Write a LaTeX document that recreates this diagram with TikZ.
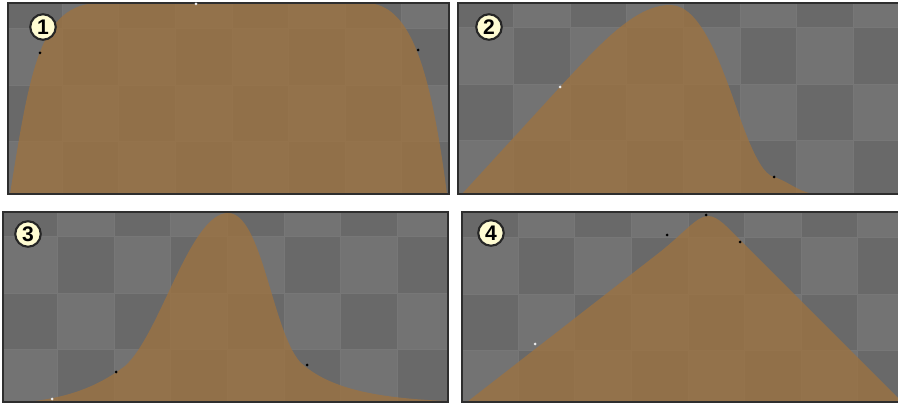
\documentclass[tikz,border=0pt]{standalone}
\usepackage{fontspec}
\setsansfont{Liberation Sans}
\usepackage{xcolor}
\usepackage{tikz}

\definecolor{checkdark}{HTML}{696969}
\definecolor{checklight}{HTML}{737373}
\definecolor{gridline}{HTML}{777777}
\definecolor{curvefill}{RGB}{156,114,66}
\definecolor{framecol}{HTML}{2E2E2E}
\definecolor{badgefill}{HTML}{FFFCD2}

\begin{document}
\begin{tikzpicture}[
    x=0.01cm, y=-0.01cm,
    every node/.style={font=\sffamily\bfseries\fontsize{6}{6}\selectfont},
    badge/.style={circle, draw=black!85, line width=0.6pt, fill=badgefill, minimum size=0.255cm, inner sep=0pt},
    knotdark/.style={circle, fill=black, inner sep=0pt, minimum size=0.03cm},
    knotlight/.style={circle, fill=white!85!gray, inner sep=0pt, minimum size=0.03cm},
    curve/.style={fill=curvefill, fill opacity=0.8},
    frame/.style={draw=framecol, line width=0.4pt}
]
\useasboundingbox (0,0) rectangle (898,404);
\fill[white] (0,0) rectangle (898,404);

% checkered panels
\foreach \xl/\yt/\xr/\yb/\gx/\gy in {8/3/449/194/5.5/-28, 458/3/899/194/457/-29, 3/212/448/402/1/180, 462/212/899/402/461.5/181}{
  \begin{scope}
    \clip (\xl,\yt) rectangle (\xr,\yb);
    \foreach \i in {0,...,8}{
      \foreach \j in {0,...,4}{
        \pgfmathtruncatemacro\cellodd{mod(\i+\j,2)}
        \ifnum\cellodd=0 \def\cellcol{checkdark}\else\def\cellcol{checklight}\fi
        \filldraw[fill=\cellcol, draw=gridline, line width=0.2pt]
          ({\gx+\i*56.6},{\gy+\j*56.6}) rectangle +(56.6,56.6);
      }
    }
  \end{scope}
}

% 1: plateau
\begin{scope}
  \clip (8,3) rectangle (449,194);
  \fill[curve] (10,194) .. controls (30,70) and (40,3) .. (100,3) -- (365,3)
    .. controls (410,3) and (430,65) .. (447,194) -- cycle;
\end{scope}
\draw[frame] (8,3) rectangle (449,194);

% 2: skewed bump
\begin{scope}
  \clip (458,3) rectangle (899,194);
  \fill[curve] (462,194) -- (560,87) .. controls (600,44) and (635,5) .. (670,5)
    .. controls (700,5) and (720,60) .. (740,118)
    .. controls (755,160) and (765,175) .. (774,177)
    .. controls (790,182) and (800,194) .. (818,194) -- cycle;
\end{scope}
\draw[frame] (458,3) rectangle (899,194);

% 3: bell
\begin{scope}
  \clip (3,212) rectangle (448,402);
  \fill[curve] (25,402) .. controls (70,398) and (100,385) .. (125,366)
    .. controls (160,335) and (190,213) .. (228,213)
    .. controls (262,213) and (272,330) .. (300,362)
    .. controls (330,390) and (380,398) .. (446,401) -- (446,402) -- cycle;
\end{scope}
\draw[frame] (3,212) rectangle (448,402);

% 4: tent
\begin{scope}
  \clip (462,212) rectangle (899,402);
  \fill[curve] (467,402) -- (660,252) .. controls (685,232) and (697,216) .. (708,216)
    .. controls (718,216) and (728,228) .. (740,240) -- (898,398) -- (898,402) -- cycle;
\end{scope}
\draw[frame] (462,212) rectangle (899,402);

% handles
\node[knotdark] (k1a) at (40,53) {};
\node[knotlight] (k1b) at (196,4) {};
\node[knotdark] (k1c) at (418,50) {};
\node[knotlight] (k2a) at (560,87) {};
\node[knotdark] (k2b) at (774,177) {};
\node[knotlight] (k3a) at (52,399) {};
\node[knotdark] (k3b) at (116,372) {};
\node[knotdark] (k3c) at (307,365) {};
\node[knotlight] (k4a) at (535,344) {};
\node[knotdark] (k4b) at (667,235) {};
\node[knotdark] (k4c) at (706,215) {};
\node[knotdark] (k4d) at (740,242) {};

% numbers
\node[badge] (b1) at (43,27) {1};
\node[badge] (b2) at (489,27) {2};
\node[badge] (b3) at (28,234) {3};
\node[badge] (b4) at (491,233) {4};
\end{tikzpicture}
\end{document}
